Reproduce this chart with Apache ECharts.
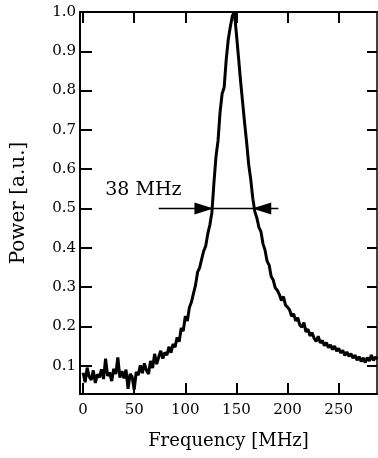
<!DOCTYPE html>
<html>
<head>
<meta charset="utf-8">
<script src="https://cdn.jsdelivr.net/npm/echarts@6/dist/echarts.min.js"></script>
<style>
  html, body { margin: 0; padding: 0; background: #fff; }
  #chart { width: 378px; height: 458px; }
</style>
</head>
<body>
<div id="chart"></div>
<script>
// Measured resonance spectrum, sampled every 2 MHz
const frequency = [
  0, 2, 4, 6, 8, 10, 12, 14, 16, 18,
  20, 22, 24, 26, 28, 30, 32, 34, 36, 38,
  40, 42, 44, 46, 48, 50, 52, 54, 56, 58,
  60, 62, 64, 66, 68, 70, 72, 74, 76, 78,
  80, 82, 84, 86, 88, 90, 92, 94, 96, 98,
  100, 102, 104, 106, 108, 110, 112, 114, 116, 118,
  120, 122, 124, 126, 128, 130, 132, 134, 136, 138,
  140, 142, 144, 146, 148, 150, 152, 154, 156, 158,
  160, 162, 164, 166, 168, 170, 172, 174, 176, 178,
  180, 182, 184, 186, 188, 190, 192, 194, 196, 198,
  200, 202, 204, 206, 208, 210, 212, 214, 216, 218,
  220, 222, 224, 226, 228, 230, 232, 234, 236, 238,
  240, 242, 244, 246, 248, 250, 252, 254, 256, 258,
  260, 262, 264, 266, 268, 270, 272, 274, 276, 278,
  280, 282, 284, 286, 288
];
const power = [
  0.082, 0.058, 0.095, 0.072, 0.064, 0.088, 0.056, 0.078, 0.070, 0.091,
  0.066, 0.118, 0.074, 0.083, 0.061, 0.092, 0.079, 0.121, 0.070, 0.086,
  0.068, 0.090, 0.041, 0.079, 0.072, 0.039, 0.084, 0.076, 0.101, 0.081,
  0.106, 0.088, 0.079, 0.112, 0.094, 0.130, 0.104, 0.122, 0.138, 0.118,
  0.134, 0.127, 0.148, 0.133, 0.155, 0.147, 0.172, 0.161, 0.196, 0.188,
  0.226, 0.214, 0.248, 0.262, 0.284, 0.305, 0.338, 0.349, 0.371, 0.392,
  0.405, 0.436, 0.458, 0.490, 0.565, 0.632, 0.672, 0.745, 0.792, 0.808,
  0.878, 0.930, 0.962, 0.990, 1.000, 0.944, 0.886, 0.826, 0.772, 0.718,
  0.668, 0.612, 0.574, 0.526, 0.492, 0.476, 0.452, 0.441, 0.410, 0.394,
  0.366, 0.356, 0.327, 0.318, 0.298, 0.292, 0.281, 0.266, 0.276, 0.254,
  0.249, 0.242, 0.226, 0.232, 0.214, 0.222, 0.203, 0.198, 0.210, 0.186,
  0.193, 0.176, 0.184, 0.170, 0.162, 0.175, 0.158, 0.164, 0.151, 0.159,
  0.146, 0.153, 0.141, 0.150, 0.137, 0.144, 0.133, 0.139, 0.126, 0.135,
  0.124, 0.131, 0.119, 0.127, 0.114, 0.123, 0.111, 0.120, 0.108, 0.121,
  0.112, 0.127, 0.113, 0.122, 0.117
];

// Tick positions on both axes
const freqTicks = [0, 50, 100, 150, 200, 250];
const powerTicks = [0.1, 0.2, 0.3, 0.4, 0.5, 0.6, 0.7, 0.8, 0.9, 1.0];

// Full width at half maximum annotation
const fwhmMHz = 38;
const fwhmCenter = 146.5;
const halfLevel = 0.5;
const fwhmText = fwhmMHz + ' MHz';
const fwhmTextAt = [59, 0.547];

const FONT = 'DejaVu Serif';

const chart = echarts.init(document.getElementById('chart'), null, { renderer: 'canvas' });

const curve = frequency.map((f, i) => [f, power[i]]);
const leftTip = fwhmCenter - fwhmMHz / 2;
const rightTip = fwhmCenter + fwhmMHz / 2;

function xAxisDef(pos, extra) {
  return Object.assign({
    type: 'value', min: -3, max: 287.5, position: pos,
    splitLine: { show: false },
    axisLine: { show: true, onZero: false, lineStyle: { color: '#000', width: 2 } },
    axisTick: { show: true, inside: true, length: 11, customValues: freqTicks,
                lineStyle: { color: '#000', width: 2 } },
    axisLabel: { show: false, customValues: freqTicks }
  }, extra);
}
function yAxisDef(pos, extra) {
  return Object.assign({
    type: 'value', min: 0.028, max: 1.0, position: pos,
    splitLine: { show: false },
    axisLine: { show: true, onZero: false, lineStyle: { color: '#000', width: 2 } },
    axisTick: { show: true, inside: true, length: 12, customValues: powerTicks,
                lineStyle: { color: '#000', width: 2 } },
    axisLabel: { show: false, customValues: powerTicks }
  }, extra);
}

chart.setOption({
  animation: false,
  backgroundColor: '#fff',
  grid: { left: 80, right: 1, top: 12, bottom: 64 },
  xAxis: [
    xAxisDef('bottom', {
      name: 'Frequency [MHz]',
      nameLocation: 'middle',
      nameGap: 38,
      nameTextStyle: { fontFamily: FONT, fontSize: 18, color: '#000' },
      axisLabel: {
        show: true, customValues: freqTicks,
        margin: 9, fontFamily: FONT, fontSize: 15, color: '#000',
        formatter: v => String(Math.round(v))
      }
    }),
    xAxisDef('top', {})
  ],
  yAxis: [
    yAxisDef('left', {
      name: 'Power [a.u.]',
      nameLocation: 'middle',
      nameGap: 51,
      nameRotate: 90,
      nameTextStyle: { fontFamily: FONT, fontSize: 20, color: '#000' },
      axisLabel: {
        show: true, customValues: powerTicks,
        margin: 4, fontFamily: FONT, fontSize: 15, color: '#000',
        formatter: v => v.toFixed(1)
      }
    }),
    yAxisDef('right', {
      axisLine: { show: true, onZero: false, lineStyle: { color: '#000', width: 1.5 } },
      axisTick: { show: true, inside: true, length: 10, customValues: powerTicks,
                  lineStyle: { color: '#000', width: 2 } }
    })
  ],
  series: [
    {
      name: 'spectrum',
      type: 'line',
      data: curve,
      showSymbol: false,
      symbol: 'none',
      lineStyle: { color: '#000', width: 3 },
      z: 3
    },
    {
      name: 'fwhm-bar',
      type: 'line',
      data: [[74, halfLevel], [191, halfLevel]],
      symbol: 'none',
      lineStyle: { color: '#000', width: 1.5 },
      z: 4
    },
    {
      name: 'fwhm-heads',
      type: 'scatter',
      symbol: 'triangle',
      symbolSize: [12, 19],
      itemStyle: { color: '#000', opacity: 1 },
      data: [
        { value: [leftTip, halfLevel], symbolRotate: -90, symbolOffset: [-9.5, 0] },
        { value: [rightTip, halfLevel], symbolRotate: 90, symbolOffset: [9.5, 0] }
      ],
      z: 5
    }
  ]
});

// Width label, placed in data coordinates
const labelPos = chart.convertToPixel({ xAxisIndex: 0, yAxisIndex: 0 }, fwhmTextAt);
chart.setOption({
  graphic: [{
    type: 'text',
    x: labelPos[0],
    y: labelPos[1],
    z: 10,
    style: {
      text: fwhmText,
      fill: '#000',
      font: '19px "DejaVu Serif"',
      align: 'center',
      verticalAlign: 'middle'
    }
  }]
});
</script>
</body>
</html>
